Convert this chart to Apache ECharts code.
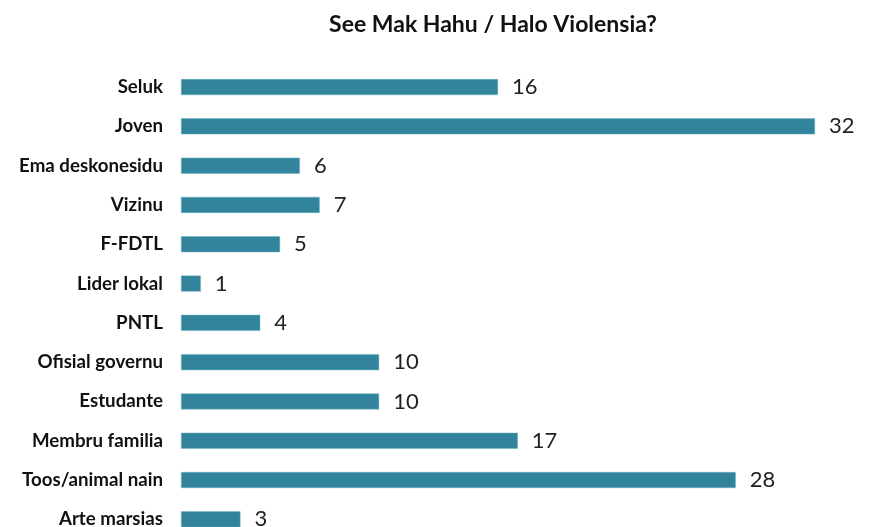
<!DOCTYPE html>
<html>
<head>
<meta charset="utf-8">
<script src="https://cdn.jsdelivr.net/npm/echarts@6/dist/echarts.min.js"></script>
<style>
  html, body { margin: 0; padding: 0; background: #fff; overflow: hidden; }
  #chart { width: 872px; height: 545px; }
</style>
</head>
<body>
<div id="chart"></div>
<script>
const categories = ['Seluk', 'Joven', 'Ema deskonesidu', 'Vizinu', 'F-FDTL', 'Lider lokal', 'PNTL',
  'Ofisial governu', 'Estudante', 'Membru familia', 'Toos/animal nain', 'Arte marsias'];
const counts = [16, 32, 6, 7, 5, 1, 4, 10, 10, 17, 28, 3];

// the picture is cut at the bottom, so the chart is a bit taller than the window
const chart = echarts.init(document.getElementById('chart'));

const option = {
  animation: false,
  title: {
    text: 'See Mak Hahu / Halo Violensia?',
    left: 488,
    textAlign: 'center',
    top: 8,
    textStyle: { fontFamily: 'Lato', fontWeight: 'bold', fontSize: 23, color: '#111' }
  },
  grid: { left: 181, right: 57, top: 67.4, height: 471.6 },
  xAxis: {
    type: 'value',
    min: 0,
    max: 32,
    show: false
  },
  yAxis: {
    type: 'category',
    data: categories,
    inverse: true,
    axisLine: { show: false },
    axisTick: { show: false },
    axisLabel: {
      margin: 18,
      fontFamily: 'Lato',
      fontWeight: 'bold',
      fontSize: 18.7,
      color: '#111'
    }
  },
  series: [{
    type: 'bar',
    data: counts,
    barWidth: 16,
    itemStyle: { color: '#31849B', borderColor: '#6FB3C4', borderWidth: 0.5 },
    label: {
      show: true,
      position: 'right',
      distance: 14,
      fontFamily: 'Lato',
      fontSize: 22,
      color: '#222'
    }
  }]
};

chart.setOption(option);
</script>
</body>
</html>
